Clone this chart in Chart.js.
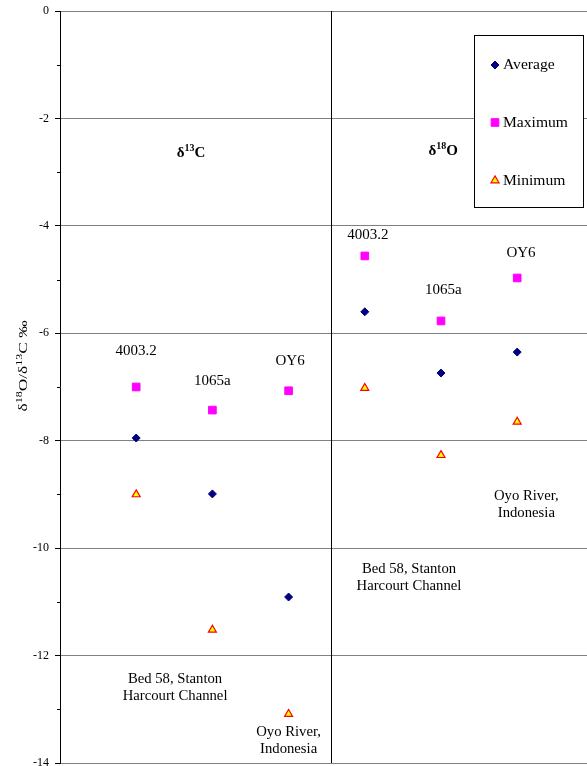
<!DOCTYPE html>
<html><head><meta charset="utf-8">
<script src="https://cdn.jsdelivr.net/npm/chart.js@4/dist/chart.umd.min.js"></script>
<style>html,body{margin:0;padding:0;background:#fff}#wrap{width:587px;height:766px;position:relative}canvas{display:block}</style>
</head><body><div id="wrap"><canvas id="c" width="587" height="766"></canvas></div>
<script>
// ---- data ----
const samples = ['4003.2', '1065a', 'OY6'];
const panelsTitle = [['δ', '13', 'C'], ['δ', '18', 'O']];
const slotsC = [1, 2, 3];
const slotsO = [4, 5, 6];
const averageC = [-7.95, -8.99, -10.91];
const maximumC = [-7.00, -7.43, -7.07];
const minimumC = [-9.00, -11.52, -13.09];
const averageO = [-5.60, -6.74, -6.35];
const maximumO = [-4.56, -5.77, -4.97];
const minimumO = [-7.02, -8.27, -7.65];
const seriesNames = ['Average', 'Maximum', 'Minimum'];
const yMin = -14, yMax = 0, yStep = 2;

// ---- layout / annotation config ----
const xRange = [0, 6.916];
const dividerX = 3.56;
const sampleLabelPos = [
  {x: 1.0, y: -6.33}, {x: 2.0, y: -6.89}, {x: 3.02, y: -6.52},
  {x: 4.04, y: -4.18}, {x: 5.03, y: -5.19}, {x: 6.05, y: -4.50}
];
const siteLabels = [
  {lines: ['Bed 58, Stanton', 'Harcourt Channel'], x: 1.51, y: -12.43},
  {lines: ['Oyo River,', 'Indonesia'], x: 3.0, y: -13.42},
  {lines: ['Bed 58, Stanton', 'Harcourt Channel'], x: 4.58, y: -10.39},
  {lines: ['Oyo River,', 'Indonesia'], x: 6.12, y: -9.03}
];
const headerPos = [{x: 1.72, y: -2.62}, {x: 5.03, y: -2.58}];

function pts(vals, slots) { return vals.map((v, i) => ({x: slots[i], y: v})); }

const styles = [
  {pointStyle: 'rectRot', pointRadius: 4, backgroundColor: '#000080', borderColor: '#000080', borderWidth: 1},
  {pointStyle: 'rect', pointRadius: 5.4, backgroundColor: '#FF00FF', borderColor: '#FF00FF', borderWidth: 1},
  {pointStyle: 'triangle', pointRadius: 4.6, backgroundColor: '#FFFF00', borderColor: '#FF0000', borderWidth: 1.2}
];
const seriesC = [averageC, maximumC, minimumC];
const seriesO = [averageO, maximumO, minimumO];

const datasets = seriesNames.map((n, k) => Object.assign({
  label: n,
  data: pts(seriesC[k], slotsC).concat(pts(seriesO[k], slotsO)),
  pointHoverRadius: styles[k].pointRadius,
  showLine: false
}, styles[k]));

const serif = '"Liberation Serif", "Times New Roman", serif';

function drawMarker(ctx, style, r, x, y) {
  if (style === 'rectRot') {
    ctx.moveTo(x, y - r); ctx.lineTo(x + r, y); ctx.lineTo(x, y + r); ctx.lineTo(x - r, y); ctx.closePath();
  } else if (style === 'rect') {
    const s = r * Math.SQRT1_2; ctx.rect(x - s, y - s, 2 * s, 2 * s);
  } else {
    const k = r * Math.sin(Math.PI / 3);
    ctx.moveTo(x, y - r); ctx.lineTo(x + k, y + r / 2); ctx.lineTo(x - k, y + r / 2); ctx.closePath();
  }
}

const extras = {
  id: 'extras',
  beforeDatasetsDraw(chart) {
    const {ctx, chartArea: a, scales: {x, y}} = chart;
    ctx.save();
    const dx = Math.round(x.getPixelForValue(dividerX)) + 0.5;
    ctx.strokeStyle = '#000'; ctx.lineWidth = 1;
    ctx.beginPath(); ctx.moveTo(dx, a.top); ctx.lineTo(dx, a.bottom); ctx.stroke();
    for (let v = yMax - 1; v > yMin; v -= 2) {
      const py = Math.round(y.getPixelForValue(v)) + 0.5;
      ctx.beginPath(); ctx.moveTo(a.left - 3, py); ctx.lineTo(a.left, py); ctx.stroke();
    }
    ctx.restore();
  },
  afterDatasetsDraw(chart) {
    const {ctx, scales: {x, y}} = chart;
    ctx.save();
    ctx.fillStyle = '#000';
    ctx.textAlign = 'center'; ctx.textBaseline = 'middle';
    ctx.font = '15px ' + serif;
    sampleLabelPos.forEach((p, i) => {
      ctx.fillText(samples[i % 3], x.getPixelForValue(p.x), y.getPixelForValue(p.y));
    });
    ctx.font = '14.7px ' + serif;
    siteLabels.forEach(s => {
      const px = x.getPixelForValue(s.x), py = y.getPixelForValue(s.y);
      s.lines.forEach((l, j) => ctx.fillText(l, px, py + j * 17));
    });
    headerPos.forEach((p, i) => {
      const [a1, sup, b1] = panelsTitle[i];
      const big = 'bold 15px ' + serif, small = 'bold 10px ' + serif;
      ctx.font = big; const w1 = ctx.measureText(a1).width, w3 = ctx.measureText(b1).width;
      ctx.font = small; const w2 = ctx.measureText(sup).width;
      let px = x.getPixelForValue(p.x) - (w1 + w2 + w3) / 2;
      const py = y.getPixelForValue(p.y);
      ctx.textAlign = 'left'; ctx.textBaseline = 'alphabetic';
      ctx.font = big; ctx.fillText(a1, px, py + 5); px += w1;
      ctx.font = small; ctx.fillText(sup, px, py - 0.5); px += w2;
      ctx.font = big; ctx.fillText(b1, px, py + 5);
    });
    // legend
    const box = {l: 474.5, t: 35.5, r: 583.5, b: 207.5};
    ctx.fillStyle = '#fff';
    ctx.fillRect(box.l, box.t, box.r - box.l, box.b - box.t);
    ctx.strokeStyle = '#000'; ctx.lineWidth = 1;
    ctx.strokeRect(box.l, box.t, box.r - box.l, box.b - box.t);
    const rows = [65, 122.5, 180.5];
    chart.data.datasets.forEach((d, k) => {
      ctx.fillStyle = d.backgroundColor; ctx.strokeStyle = d.borderColor; ctx.lineWidth = d.borderWidth;
      ctx.beginPath();
      drawMarker(ctx, d.pointStyle, d.pointRadius, 495, rows[k]);
      ctx.fill(); ctx.stroke();
      ctx.fillStyle = '#000'; ctx.textAlign = 'left'; ctx.textBaseline = 'middle';
      ctx.font = '15.6px ' + serif;
      ctx.fillText(d.label, 503, rows[k]);
    });
    // y title
    ctx.save();
    ctx.translate(22, 366); ctx.rotate(-Math.PI / 2);
    const parts = [['δ', 13, 0], ['18', 9, -4.5], ['O/δ', 13, 0], ['13', 9, -4.5], ['C ‰', 13, 0]];
    let tw = 0;
    parts.forEach(pp => { ctx.font = pp[1] + 'px ' + serif; pp.push(ctx.measureText(pp[0]).width); tw += pp[3]; });
    const sx = 91 / tw;
    ctx.scale(sx, 1);
    let cx = -tw / 2;
    ctx.textAlign = 'left'; ctx.textBaseline = 'alphabetic'; ctx.fillStyle = '#000';
    parts.forEach(pp => { ctx.font = pp[1] + 'px ' + serif; ctx.fillText(pp[0], cx, 4.5 + pp[2]); cx += pp[3]; });
    ctx.restore();
    ctx.restore();
  }
};

new Chart(document.getElementById('c'), {
  type: 'scatter',
  data: {datasets},
  options: {
    responsive: false, animation: false, devicePixelRatio: 1,
    layout: {autoPadding: false, padding: {top: 11, bottom: 3, left: 0, right: 0}},
    plugins: {legend: {display: false}, tooltip: {enabled: false}},
    scales: {
      x: {type: 'linear', min: xRange[0], max: xRange[1], display: false},
      y: {
        min: yMin, max: yMax,
        ticks: {stepSize: yStep, color: '#000', padding: 6, font: {family: serif, size: 12}},
        grid: {color: '#808080', tickColor: '#000', tickLength: 5, lineWidth: 1},
        border: {color: '#000', width: 1},
        afterFit(s) { s.width = 60; s.paddingTop = 0; s.paddingBottom = 0; }
      }
    }
  },
  plugins: [extras]
});
</script></body></html>
